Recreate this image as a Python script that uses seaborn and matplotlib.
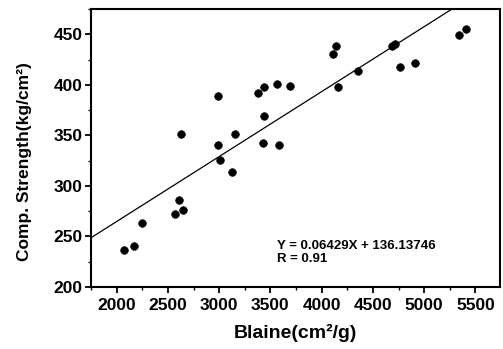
"""Compressive strength vs. Blaine fineness, with linear fit."""

import matplotlib

matplotlib.use("Agg")
import matplotlib.pyplot as plt
import numpy as np
import pandas as pd
import seaborn as sns
from matplotlib.ticker import MultipleLocator

blaine = [2070, 2170, 2250, 2570, 2610, 2650, 2630, 2985, 2985, 3010,
          3130, 3150, 3375, 3440, 3560, 3690, 3440, 3430, 3585, 4115,
          4140, 4155, 4350, 4690, 4720, 4765, 4915, 5340, 5405]
strength = [237, 240, 263, 272, 286, 276, 351, 389, 340, 326,
            314, 351, 392, 398, 401, 399, 369, 342, 340, 431,
            438, 398, 414, 438, 440, 418, 422, 449, 455]

slope = 0.06429
intercept = 136.13746
r_value = 0.91

x_ticks = [2000, 2500, 3000, 3500, 4000, 4500, 5000, 5500]
y_ticks = [200, 250, 300, 350, 400, 450]

sns.set_style("ticks")
plt.rcParams["font.family"] = ["Liberation Sans", "DejaVu Sans"]
plt.rcParams["font.weight"] = "bold"
for key in ["text.color", "axes.labelcolor", "xtick.color", "ytick.color", "axes.edgecolor"]:
    plt.rcParams[key] = "black"

df = pd.DataFrame({"blaine": blaine, "strength": strength})

fig = plt.figure(figsize=(5.03, 3.49), dpi=100)
ax = fig.add_axes([0.181, 0.178, 0.813, 0.796])

xlim = (1750, 5740)
ylim = (200, 475)

fit_x = np.array(xlim, dtype=float)
sns.lineplot(x=fit_x, y=slope * fit_x + intercept, ax=ax, color="black", linewidth=0.9)
sns.scatterplot(data=df, x="blaine", y="strength", ax=ax, color="black",
                s=30, edgecolor="black", linewidth=0.5, marker="o", zorder=3)

ax.set_xlim(*xlim)
ax.set_ylim(*ylim)
ax.set_xticks(x_ticks)
ax.set_yticks(y_ticks)
ax.xaxis.set_minor_locator(MultipleLocator(250))
ax.yaxis.set_minor_locator(MultipleLocator(25))
ax.tick_params(which="major", direction="out", length=4, width=1.3, labelsize=12.5, pad=2)
ax.tick_params(axis="x", which="major", pad=4)
ax.tick_params(which="minor", direction="out", length=2.5, width=1.0)
for lbl in ax.get_xticklabels() + ax.get_yticklabels():
    lbl.set_fontweight("bold")

for spine in ax.spines.values():
    spine.set_visible(True)
    spine.set_linewidth(1.5)
    spine.set_color("black")

ax.set_xlabel("Blaine(cm²/g)", fontsize=14, fontweight="bold", labelpad=8)
ax.set_ylabel("Comp. Strength(kg/cm²)", fontsize=12.5, fontweight="bold")
ax.yaxis.set_label_coords(-0.145, 0.45)

ax.text(3564, 240.5, f"Y = {slope}X + {intercept}", fontsize=9.5, fontweight="bold",
        va="center", ha="left")
ax.text(3564, 228, f"R = {r_value}", fontsize=9.5, fontweight="bold",
        va="center", ha="left")

fig.savefig("out.png", dpi=100)
plt.close(fig)
